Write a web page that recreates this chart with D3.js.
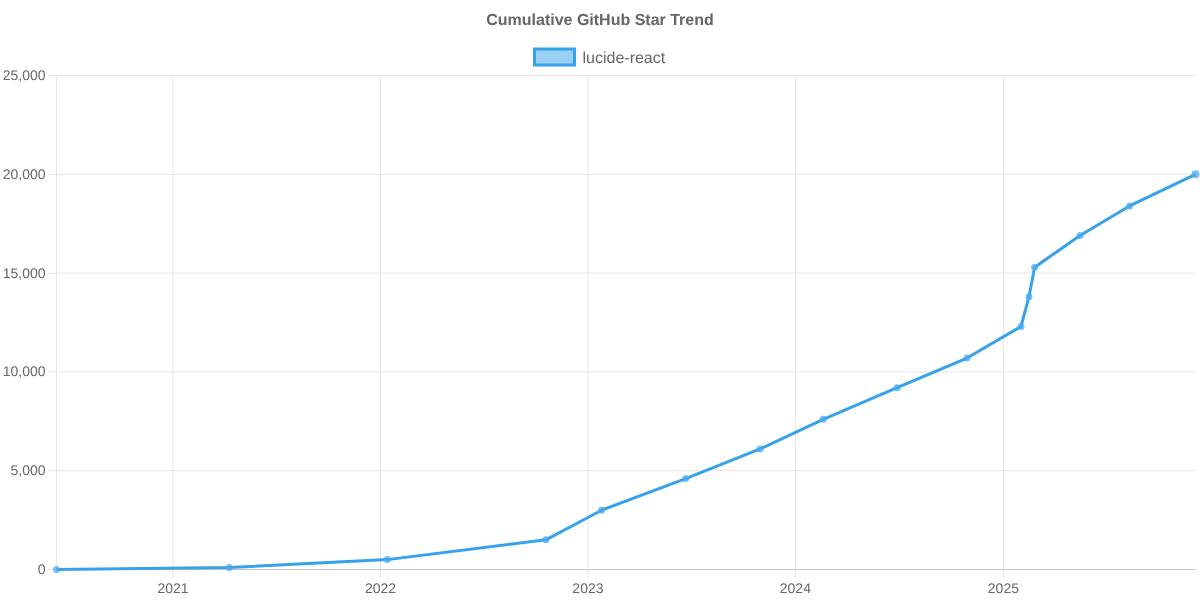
<!DOCTYPE html>
<html lang="en">
<head>
<meta charset="utf-8">
<script src="https://cdnjs.cloudflare.com/ajax/libs/d3/7.8.5/d3.min.js"></script>
<style>
  html, body { margin: 0; padding: 0; background: #fff; }
  svg { will-change: transform; }
  text { font-family: "Liberation Sans", Arial, sans-serif; fill: #666; text-rendering: geometricPrecision; }
</style>
</head>
<body>
<div id="chart"></div>
<script>
// values
var dates = ["2020-06-10", "2021-04-10", "2022-01-13", "2022-10-19", "2023-01-25", "2023-06-22",
  "2023-10-31", "2024-02-19", "2024-06-28", "2024-10-29", "2025-02-01", "2025-02-15",
  "2025-02-25", "2025-05-16", "2025-08-11", "2025-12-05"];
var stars = [0, 100, 500, 1500, 3000, 4600, 6100, 7600, 9200, 10700, 12300, 13800, 15300, 16900, 18400, 20000];
var yTicks = [0, 5000, 10000, 15000, 20000, 25000];
var xTicks = ["2021-01-01", "2022-01-01", "2023-01-01", "2024-01-01", "2025-01-01"];
var seriesName = "lucide-react";
var chartTitle = "Cumulative GitHub Star Trend";

var parse = d3.utcParse("%Y-%m-%d");
var blue = "#36A2EB";
var grid = "#e5e5e5";

var svg = d3.select("#chart").append("svg")
  .attr("width", 1200).attr("height", 600).style("display", "block");

var x = d3.scaleUtc().domain([parse(dates[0]), parse(dates[dates.length - 1])]).range([56.5, 1195.5]);
var y = d3.scaleLinear().domain([0, 25000]).range([569.5, 75.5]);

// left axis + horizontal grid
var yAxis = svg.append("g").attr("transform", "translate(56.5,0)")
  .call(d3.axisLeft(y).tickValues(yTicks).tickFormat(d3.format(",")).tickSize(8).tickSizeOuter(0).tickPadding(2).offset(0));
yAxis.select(".domain").attr("stroke", grid);
yAxis.selectAll(".tick line").attr("stroke", grid).attr("x1", -8).attr("x2", 1139);
yAxis.selectAll("text").attr("font-size", 14).attr("dx", -1).style("fill", "#666");

// bottom axis + vertical grid
var xAxis = svg.append("g").attr("transform", "translate(0,569.5)")
  .call(d3.axisBottom(x).tickValues(xTicks.map(parse)).tickFormat(d3.utcFormat("%Y")).tickSize(8).tickSizeOuter(0).tickPadding(6).offset(0));
xAxis.select(".domain").attr("stroke", "#c4c4c4");
xAxis.selectAll(".tick line").attr("stroke", grid).attr("y1", -494);
xAxis.selectAll("text").attr("font-size", 14).style("fill", "#666");

var line = d3.line()
  .x(function (d, i) { return x(parse(dates[i])); })
  .y(function (d) { return y(d); });

svg.append("path").datum(stars)
  .attr("d", line).attr("fill", "none").attr("stroke", blue)
  .attr("stroke-width", 3).attr("stroke-linejoin", "round");

svg.selectAll("circle.pt").data(stars).enter().append("circle")
  .attr("class", "pt")
  .attr("cx", function (d, i) { return x(parse(dates[i])); })
  .attr("cy", function (d) { return y(d); })
  .attr("r", function (d, i) { return i == stars.length - 1 ? 4 : 3.5; })
  .attr("fill", "rgba(70,170,240,0.75)");

// title
svg.append("text").attr("x", 600).attr("y", 25).attr("text-anchor", "middle")
  .attr("font-size", 16).attr("font-weight", "bold").text(chartTitle);

// legend
svg.append("rect").attr("x", 534.5).attr("y", 49).attr("width", 40).attr("height", 16)
  .attr("fill", "rgba(54,162,235,0.5)").attr("stroke", blue).attr("stroke-width", 3);
svg.append("text").attr("x", 582.5).attr("y", 63)
  .attr("font-size", 16).text(seriesName);
</script>
</body>
</html>
